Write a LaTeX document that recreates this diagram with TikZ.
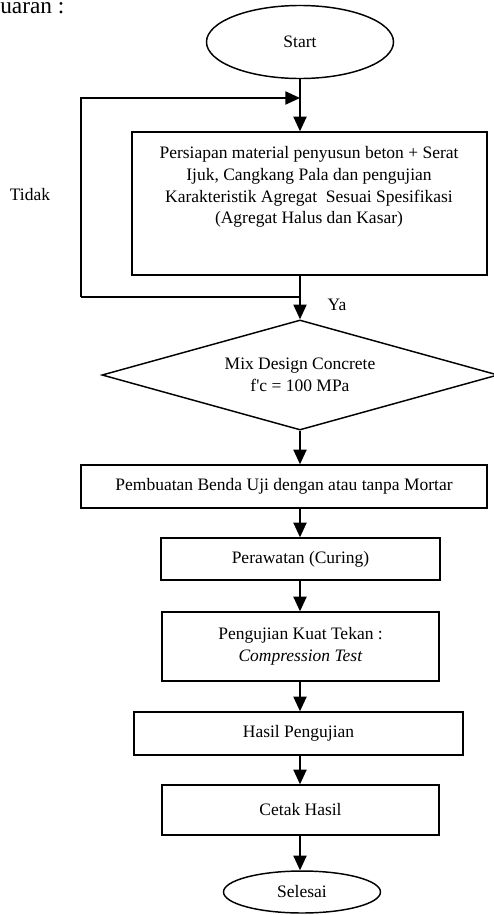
\documentclass[tikz,border=0pt]{standalone}
\usepackage{fontspec}
\setmainfont{Liberation Serif}
\usepackage{tikz}
\usetikzlibrary{arrows.meta}
\usetikzlibrary{shapes.geometric}

\begin{document}
\begin{tikzpicture}[x=0.686pt,y=-0.686pt,
                    garis/.style={line width=1pt},
                    panah/.style={garis,-{Triangle[length=10pt,width=9pt]}},
                    proses/.style={draw,garis,rectangle,inner sep=2pt,align=center},
                    terminal/.style={draw,garis,ellipse,inner sep=1pt},
                    keputusan/.style={draw,garis,diamond,inner sep=0pt,shape aspect=3.6,align=center},
                    font=\fontsize{12pt}{15pt}\selectfont]
                    \useasboundingbox (0,0) rectangle (494,915);
                    % teks sisa di pojok kiri atas
                    \node[anchor=base west,inner sep=0pt,font=\fontsize{16pt}{18pt}\selectfont] (sisa) at (0,13) {uaran :};
                    % simpul
                    \node[terminal,minimum width=128.3pt,minimum height=50.1pt] (start) at (300,42) {Start};
                    \node[proses,minimum width=243.5pt,minimum height=98.1pt] (persiapan) at (309.5,203.5) {};
                    \node[align=center,inner sep=0pt] (persiapanteks) at (309,187) {Persiapan material penyusun beton + Serat\\ Ijuk, Cangkang Pala dan pengujian\\ Karakteristik Agregat~ Sesuai Spesifikasi\\ (Agregat Halus dan Kasar)};
                    \node[keputusan,minimum width=271.7pt,minimum height=75.5pt] (mix) at (300,375) {Mix Design Concrete\\ f\textquotesingle c = 100 MPa};
                    \node[proses,minimum width=278.5pt,minimum height=29.5pt] (benda) at (284,486.5) {Pembuatan Benda Uji dengan atau tanpa Mortar};
                    \node[proses,minimum width=191.4pt,minimum height=28.8pt] (rawat) at (300.5,559) {Perawatan (Curing)};
                    \node[proses,minimum width=190pt,minimum height=47.3pt] (uji) at (300.5,646.5) {Pengujian Kuat Tekan :\\ \textit{Compression Test}};
                    \node[proses,minimum width=225.7pt,minimum height=29.5pt] (hasil) at (298.5,733.5) {Hasil Pengujian};
                    \node[proses,minimum width=190pt,minimum height=34.3pt] (cetak) at (300.5,810) {Cetak Hasil};
                    \node[terminal,minimum width=107.7pt,minimum height=28.8pt] (selesai) at (302,892) {Selesai};
                    % label
                    \node (ya) at (337,305) {Ya};
                    \node (tidak) at (30,195) {Tidak};
                    % titik bantu putaran
                    \coordinate (masuk) at (300,98);
                    \coordinate (keluar) at (300,297);
                    \coordinate (kiri) at (81,297);
                    % panah
                    \draw[panah] (start.south) -- (start.south |- persiapan.north);
                    \draw[panah] (kiri |- keluar) -- (kiri) |- (masuk);
                    \draw[garis] (keluar) -- (kiri);
                    \draw[panah] (persiapan.south -| mix.north) -- (mix.north);
                    \draw[panah] (mix.south) -- (mix.south |- benda.north);
                    \draw[panah] (benda.south -| mix.south) -- (mix.south |- rawat.north);
                    \draw[panah] (rawat.south -| mix.south) -- (mix.south |- uji.north);
                    \draw[panah] (uji.south -| mix.south) -- (mix.south |- hasil.north);
                    \draw[panah] (hasil.south -| mix.south) -- (mix.south |- cetak.north);
                    \draw[panah] (cetak.south -| mix.south) -- (mix.south |- selesai.north);
                \end{tikzpicture}
\end{document}
